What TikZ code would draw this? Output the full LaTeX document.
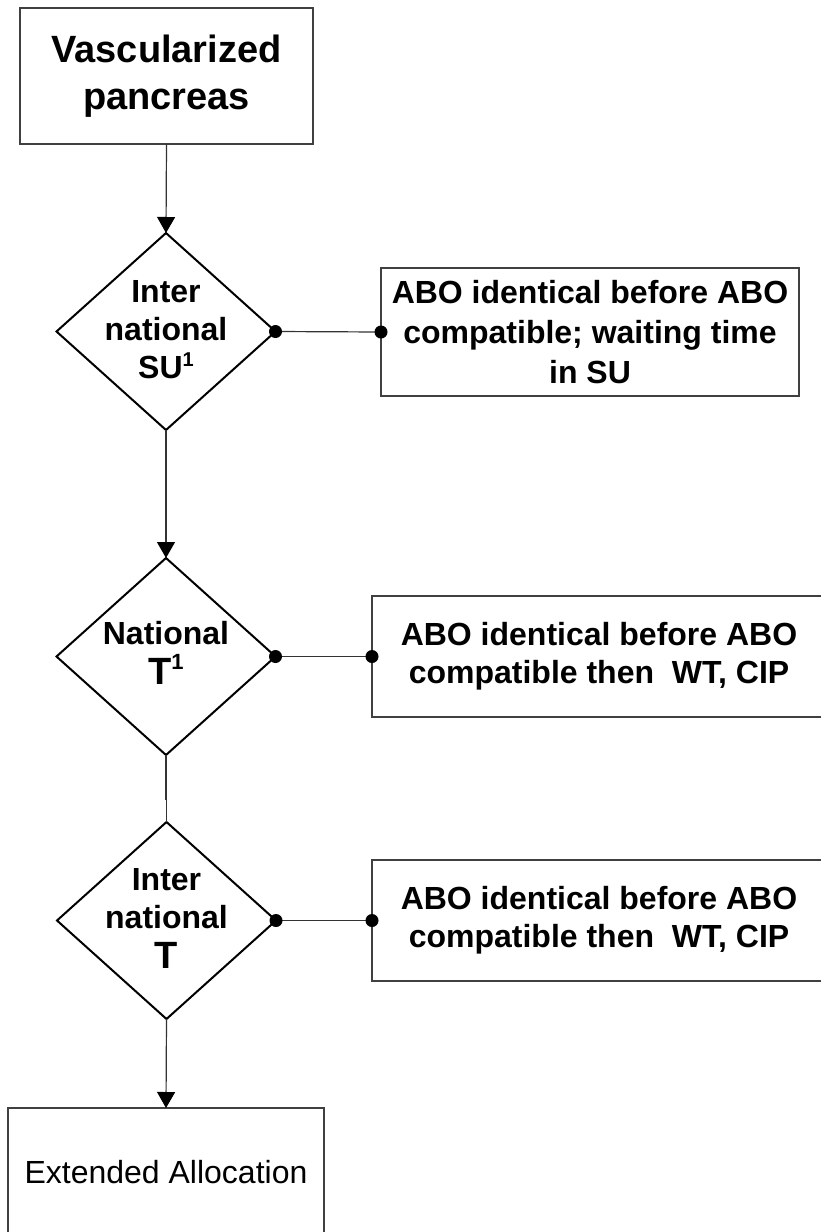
\documentclass[tikz,border=0pt]{standalone}
\usepackage{fontspec}
\setmainfont{Liberation Sans}
\usetikzlibrary{shapes.geometric,arrows.meta}
\newcommand\supone[2]{\raisebox{#2}{\fontsize{#1}{#1}\selectfont 1}}
\begin{document}
\begin{tikzpicture}[x=1pt,y=-1pt,
  boxstyle/.style={draw=black!75,line width=1.2pt,rectangle,inner sep=0pt,outer sep=0pt,align=center},
  diastyle/.style={draw=black,line width=2pt,diamond,inner sep=0pt,outer sep=0pt,minimum width=219pt,minimum height=197pt},
  dtext/.style={align=center,inner sep=0pt,font=\fontsize{32}{38}\selectfont\bfseries},
  btext/.style={font=\fontsize{32}{38}\selectfont\bfseries},
  conn/.style={draw=black!80,line width=1.2pt},
  arr/.style={conn,-{Triangle[width=18pt,length=16pt,fill=black,color=black]}},
  dot/.style={fill=black}]
\useasboundingbox (0,0) rectangle (821,1232);
\clip (0,0) rectangle (821,1232);
\fill[white] (0,0) rectangle (821,1232);

\node[boxstyle,minimum width=293pt,minimum height=136pt,font=\fontsize{38}{47}\selectfont\bfseries] (vp) at (166.5,76) {Vascularized\\pancreas};

\node[diastyle] (d1) at (166,331.5) {};
\node[dtext] (t1) at (166,330) {Inter\\national\\SU\supone{20}{12pt}};

\node[boxstyle,btext,minimum width=418pt,minimum height=128pt,font=\fontsize{32}{40}\selectfont\bfseries] (b1) at (590,332) {ABO identical before ABO\\compatible; waiting time\\in SU};

\node[diastyle] (d2) at (166,656.5) {};
\node[dtext] (t2) at (166,653) {National\\[2pt]{\fontsize{38}{44}\selectfont T\supone{22}{15pt}}};

\node[boxstyle,btext,minimum width=454pt,minimum height=121pt] (b2) at (599,656.5) {ABO identical before ABO\\compatible then\ \ WT, CIP};

\node[diastyle] (d3) at (166.5,920.5) {};
\node[dtext] (t3) at (166.5,918) {Inter\\national\\[2pt]{\fontsize{38}{44}\selectfont T}};

\node[boxstyle,btext,minimum width=454pt,minimum height=121pt] (b3) at (599,920.5) {ABO identical before ABO\\compatible then\ \ WT, CIP};

\node[boxstyle,minimum width=316pt,minimum height=128pt,font=\fontsize{32}{38}\selectfont] (ea) at (166,1172) {Extended Allocation};

\coordinate (jog) at (166,799);

\draw[arr] (vp.south) -- (d1.north);
\draw[arr] (d1.south) -- (d2.north);
\draw[conn] (d2.south) -- (d2.south |- jog) -- (d3.north |- jog) -- (d3.north);
\draw[arr] (d3.south) -- (ea.north);

\draw[conn] (d1.east) -- (b1.west);
\draw[conn] (d2.east) -- (b2.west);
\draw[conn] (d3.east) -- (b3.west);
\foreach \n in {d1.east,b1.west,d2.east,b2.west,d3.east,b3.west}
  \fill[dot] (\n) circle (6.5);
\end{tikzpicture}
\end{document}
